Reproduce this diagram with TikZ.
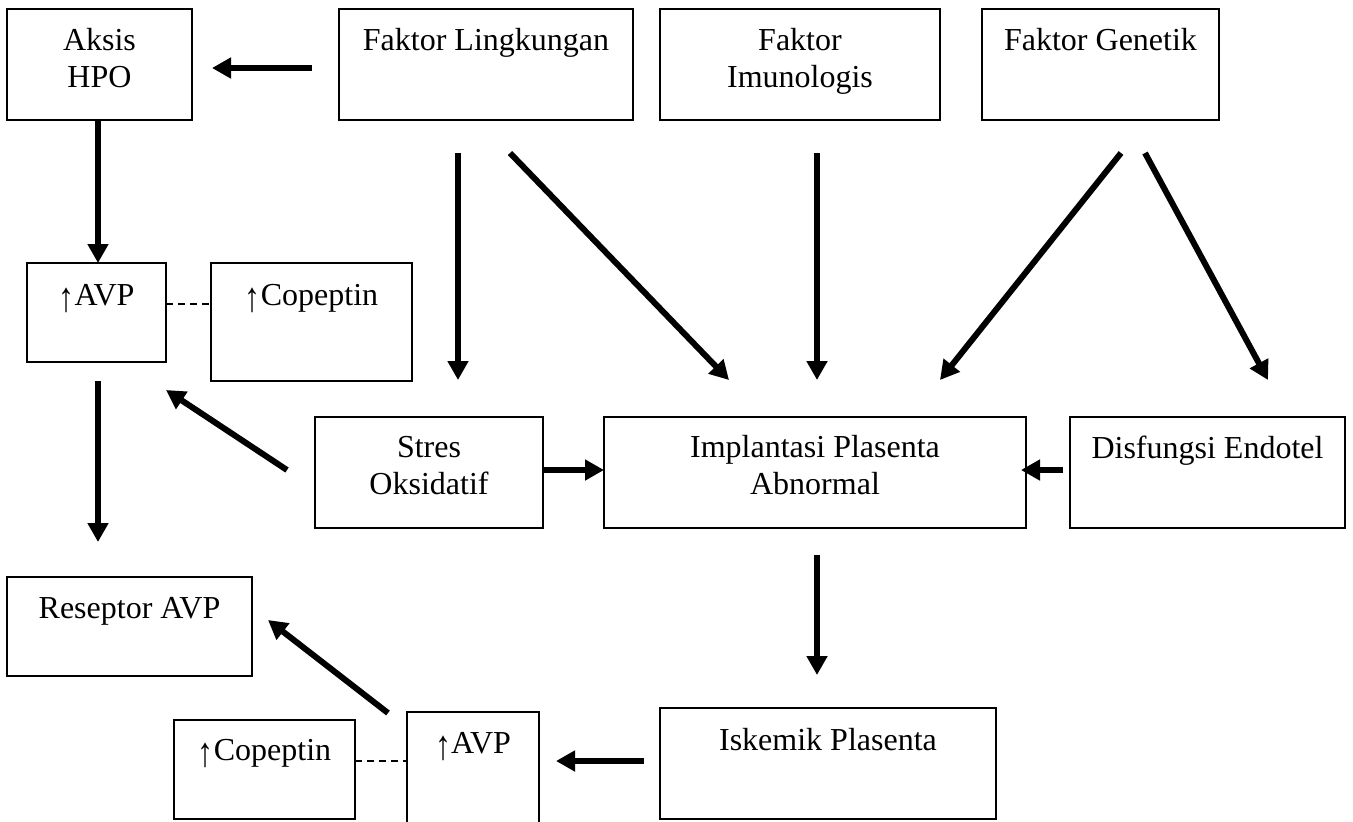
\documentclass[tikz,border=0pt]{standalone}
\usepackage{fontspec}
\usepackage{graphicx}
\setmainfont{Liberation Serif}
\usetikzlibrary{arrows.meta}
\newcommand{\upar}{\raisebox{-0.2em}{\scalebox{1}[1.3]{↑}}}
\begin{document}
\begin{tikzpicture}[x=0.5pt,y=-0.5pt,
  box/.style={draw, line width=0.75pt, inner sep=0pt, outer sep=0pt, anchor=north,
    font=\fontsize{16}{18.5}\selectfont},
  arr/.style={line width=3pt, -{Triangle[length=9.5pt,width=10pt]}},
  link/.style={line width=1.1pt, dash pattern=on 3.5pt off 2.5pt}]
\useasboundingbox (0,0) rectangle (1353,821);
% top row
\node[box, minimum width=92.5pt, text height=20.5pt, text depth=35pt] (aksis) at (99.5,9)
  {\begin{tabular}[t]{@{}c@{}}Aksis\\HPO\end{tabular}};
\node[box, minimum width=147pt, text height=20.5pt, text depth=35pt] (ling) at (486,9)
  {Faktor Lingkungan};
\node[box, minimum width=140pt, text height=20.5pt, text depth=35pt] (imun) at (800,9)
  {\begin{tabular}[t]{@{}c@{}}Faktor\\Imunologis\end{tabular}};
\node[box, minimum width=118.5pt, text height=20.5pt, text depth=35pt] (gen) at (1100.5,9)
  {Faktor Genetik};
% second row
\node[box, minimum width=69.5pt, text height=21pt, text depth=28.5pt] (avp1) at (96.5,263)
  {\upar AVP};
\node[box, minimum width=100.5pt, text height=21pt, text depth=38pt] (cop1) at (311.5,263)
  {\upar Copeptin};
% middle row
\node[box, minimum width=114pt, text height=20pt, text depth=35.5pt] (stres) at (429,417)
  {\begin{tabular}[t]{@{}c@{}}Stres\\Oksidatif\end{tabular}};
\node[box, minimum width=211pt, text height=20pt, text depth=35.5pt] (impl) at (815,417)
  {\begin{tabular}[t]{@{}c@{}}Implantasi Plasenta\\Abnormal\end{tabular}};
\node[box, minimum width=137.5pt, text height=20.5pt, text depth=35pt] (disf) at (1207.5,417)
  {Disfungsi Endotel};
% lower rows
\node[box, minimum width=122.5pt, text height=20.5pt, text depth=29pt] (resep) at (129.5,577)
  {Reseptor AVP};
\node[box, minimum width=90.5pt, text height=20pt, text depth=29.5pt] (cop2) at (264.5,720)
  {\upar Copeptin};
\node[box, minimum width=66pt, text height=20.5pt, text depth=35.5pt] (avp2) at (473,712)
  {\upar AVP};
\node[box, minimum width=168pt, text height=21pt, text depth=34.5pt] (isk) at (828,708)
  {Iskemik Plasenta};
% connectors
\draw[arr] ([shift={(-27,3.5)}]ling.west) -- ([shift={(20,3.5)}]aksis.east);
\draw[arr] ([shift={(-1.5,0)}]aksis.south) -- ([shift={(1.5,0)}]avp1.north);
\draw[arr] ([shift={(-28,33)}]ling.south) -- ([shift={(29,-37)}]stres.north);
\draw[arr] ([shift={(24,33)}]ling.south) -- ([shift={(-86,-37)}]impl.north);
\draw[arr] ([shift={(17,33)}]imun.south) -- ([shift={(2,-37)}]impl.north);
\draw[arr] ([shift={(20.5,33)}]gen.south) -- ([shift={(125,-37)}]impl.north);
\draw[arr] ([shift={(44.5,33)}]gen.south) -- ([shift={(60.5,-37)}]disf.north);
\draw[link] ([shift={(0,-8.5)}]avp1.east) -- ([shift={(0,-18)}]cop1.west);
\draw[arr] ([shift={(1.5,19)}]avp1.south) -- ([shift={(-31.5,-35)}]resep.north);
\draw[arr] ([shift={(-28,-2.5)}]stres.west) -- ([shift={(0,28)}]avp1.south east);
\draw[arr] ([shift={(0,-2.5)}]stres.east) -- ([shift={(0,-2.5)}]impl.west);
\draw[arr] ([shift={(-7,-2.5)}]disf.west) -- ([shift={(-5,-2.5)}]impl.east);
\draw[arr] ([shift={(2,27)}]impl.south) -- ([shift={(-11,-33)}]isk.north);
\draw[arr] ([shift={(-16,-2.5)}]isk.west) -- ([shift={(17,-7)}]avp2.east);
\draw[arr] ([shift={(-19,1)}]avp2.north west) -- ([shift={(16,-6.5)}]resep.east);
\draw[link] ([shift={(0,-8.5)}]cop2.east) -- ([shift={(0,-7)}]avp2.west);
\end{tikzpicture}
\end{document}
